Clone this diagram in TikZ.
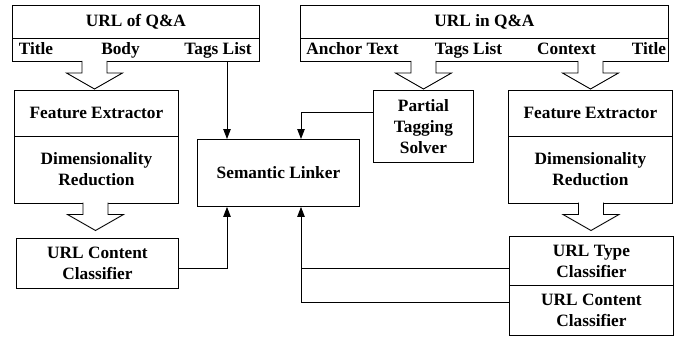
\documentclass[tikz,border=0pt]{standalone}
\usepackage{fontspec}
\setmainfont{Liberation Serif}
\usetikzlibrary{arrows.meta,calc}
\tikzset{
  box/.style={draw, line width=0.9pt, inner sep=0pt, align=center, anchor=north west,
    font=\fontsize{17.3}{21}\selectfont\bfseries},
  lbl/.style={inner sep=0pt, anchor=base, font=\fontsize{17.3}{21}\selectfont\bfseries},
  conn/.style={line width=0.9pt, -{Triangle[length=10pt,width=7.5pt]}},
  hollowarrow/.pic={\draw[line width=0.9pt, fill=white] (-12.5,0) -- (-12.5,12) -- (-28,12) -- (0,28) -- (28,12) -- (12.5,12) -- (12.5,0);}
}
\begin{document}
\begin{tikzpicture}[x=1pt,y=-1pt]
\useasboundingbox (0,0) rectangle (685,337);
% left top
\node[box, minimum width=247pt, minimum height=33pt] (q1) at (12,5) {URL of Q\&A};
\node[box, minimum width=247pt, minimum height=23pt] (q1row) at (12,38) {};
\node[lbl] (t1) at (36,55) {Title};
\node[lbl] (b1) at (120.5,55) {Body};
\node[lbl] (tl1) at (218,55) {Tags List};
% right top
\node[box, minimum width=368pt, minimum height=33pt] (q2) at (300,5) {URL in Q\&A};
\node[box, minimum width=368pt, minimum height=23pt] (q2row) at (300,38) {};
\node[lbl] (at2) at (352.5,55) {Anchor Text};
\node[lbl] (tl2) at (468.5,55) {Tags List};
\node[lbl] (c2) at (566.5,55) {Context};
\node[lbl] (ti2) at (649,55) {Title};
% left column
\node[box, minimum width=164pt, minimum height=46pt] (fe1) at (14,89.5) {Feature Extractor};
\node[box, minimum width=164pt, minimum height=67pt] (dr1) at (14,135.5) {Dimensionality\\Reduction};
\node[box, minimum width=162pt, minimum height=50pt] (cc1) at (16,238) {URL Content\\Classifier};
% middle
\node[box, minimum width=162pt, minimum height=67pt] (sl) at (197,139) {Semantic Linker};
\node[box, minimum width=100pt, minimum height=72pt] (pt) at (373,90) {Partial\\Tagging\\Solver};
% right column
\node[box, minimum width=164pt, minimum height=46pt] (fe2) at (508,89.5) {Feature Extractor};
\node[box, minimum width=164pt, minimum height=67pt] (dr2) at (508,135.5) {Dimensionality\\Reduction};
\node[box, minimum width=164pt, minimum height=49pt] (tc2) at (509,236) {URL Type\\Classifier};
\node[box, minimum width=164pt, minimum height=50pt] (cc2) at (509,285) {URL Content\\Classifier};
% hollow arrows
\pic at (94.5,61) {hollowarrow};
\pic at (95.5,202.5) {hollowarrow};
\pic at (423.5,61) {hollowarrow};
\pic at (590.5,61) {hollowarrow};
\pic at (591,202.5) {hollowarrow};
% connectors
\coordinate (x1) at (227,0);
\coordinate (x2) at (301,0);
\draw[conn] (x1 |- q1row.south) -- (x1 |- sl.north);
\draw[conn] (pt.west |- 0,112) -| (x2 |- sl.north);
\draw[conn] (cc1.east |- 0,268) -| (x1 |- sl.south);
\draw[line width=0.9pt] (tc2.west |- 0,268) -- (x2 |- 0,268);
\draw[conn] (cc2.west |- 0,302) -| (x2 |- sl.south);
\end{tikzpicture}
\end{document}
